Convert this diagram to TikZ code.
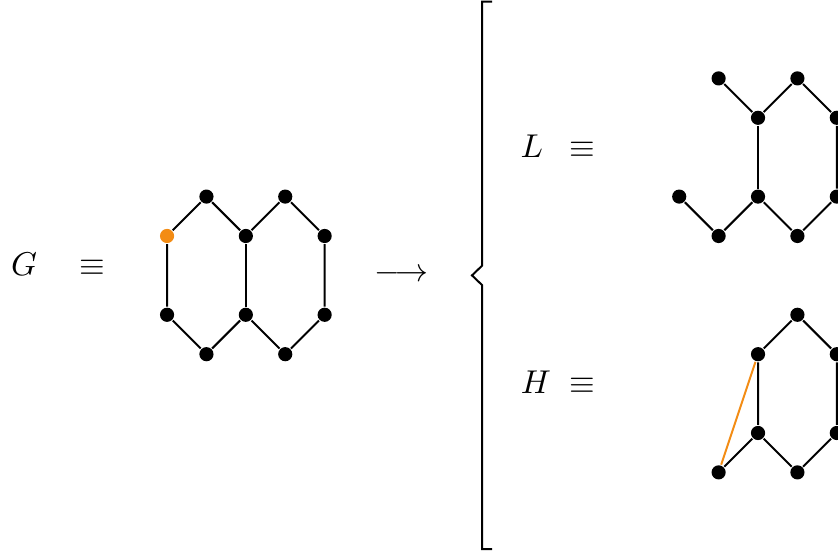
\documentclass[tikz,border=0pt]{standalone}
\usepackage{amsmath,amssymb}
\usepackage{tikz}
\usetikzlibrary{arrows.meta,positioning}
\definecolor{pick}{RGB}{243,140,20}
\tikzset{
  vtx/.style={circle,fill=black,inner sep=0pt,minimum size=4.3pt},
  picked/.style={vtx,fill=pick},
}

\begin{document}
\begin{tikzpicture}[x=0.42cm,y=0.42cm,semithick]
\useasboundingbox (-4.24,-7.07) rectangle (17.03,6.99);
% left side: G
\node[anchor=base] (gname) at (-3.63,0) {$G$};
\node[anchor=base] (geq) at (-1.89,0) {$\equiv$};
\node[picked] (g1) at (0,1) {};
\node[vtx] (g2) at (1,2) {};   \node[vtx] (g3) at (2,1) {};
\node[vtx] (g4) at (3,2) {};   \node[vtx] (g5) at (4,1) {};
\node[vtx] (g6) at (0,-1) {};  \node[vtx] (g7) at (1,-2) {};
\node[vtx] (g8) at (2,-1) {};  \node[vtx] (g9) at (3,-2) {};
\node[vtx] (g10) at (4,-1) {};
\draw (g1) -- (g2) -- (g3) -- (g4) -- (g5) -- (g10) -- (g9) -- (g8) -- (g7) -- (g6) -- (g1);
\draw (g3) -- (g8);
\node (arr) at (5.95,0) {$\longrightarrow$};
% the brace
\draw (8.25,6.95) -- (8,6.95) -- (8,0.25) -- (7.74,0) -- (8,-0.25) -- (8,-6.95) -- (8.25,-6.95);
% upper: L
\node[anchor=base] (lname) at (9.26,3) {$L$};
\node[anchor=base] (leq) at (10.55,3) {$\equiv$};
\node[vtx] (l1) at (14,5) {};  \node[vtx] (l2) at (16,5) {};
\node[vtx] (l3) at (15,4) {};  \node[vtx] (l4) at (17,4) {};
\node[vtx] (l5) at (13,2) {};  \node[vtx] (l6) at (14,1) {};
\node[vtx] (l7) at (15,2) {};  \node[vtx] (l8) at (16,1) {};
\node[vtx] (l9) at (17,2) {};
\draw (l1) -- (l3) -- (l2) -- (l4) -- (l9);
\draw (l3) -- (l7);
\draw (l5) -- (l6) -- (l7) -- (l8) -- (l9);
% lower: H
\node[anchor=base] (hname) at (9.36,-3) {$H$};
\node[anchor=base] (heq) at (10.55,-3) {$\equiv$};
\node[vtx] (h1) at (16,-1) {};
\node[vtx] (h2) at (15,-2) {};  \node[vtx] (h3) at (17,-2) {};
\node[vtx] (h4) at (15,-4) {};  \node[vtx] (h5) at (17,-4) {};
\node[vtx] (h6) at (14,-5) {};  \node[vtx] (h7) at (16,-5) {};
\draw (h2) -- (h1) -- (h3) -- (h5) -- (h7) -- (h4) -- (h2);
\draw (h4) -- (h6);
\draw[pick] (h6) -- (h2);
\end{tikzpicture}
\end{document}
